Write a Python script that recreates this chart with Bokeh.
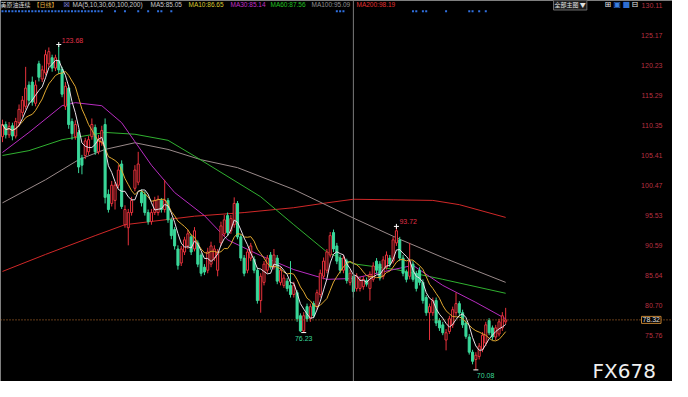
import numpy as np
import pandas as pd
from bokeh.plotting import figure
from bokeh.models import Range1d, Span, Label, ColumnDataSource
from bokeh.core.properties import value
from bokeh.embed import file_html
from bokeh.resources import INLINE

# ---------------- data ----------------
opens = [108.5, 110.5, 108.8, 110.3, 108.6, 110.8, 112.5, 113.5, 117.0, 117.5,
         114.0, 120.5, 118.0, 119.0, 120.5, 121.5, 119.8, 121.0, 119.6, 113.5,
         116.5, 111.0, 108.5, 109.2, 105.0, 105.4, 106.0, 108.5, 110.0, 106.0,
         107.5, 110.5, 99.0, 97.5, 98.0, 100.5, 104.0, 94.0, 93.5, 96.0,
         100.0, 101.0, 99.3, 99.0, 96.0, 94.5, 96.0, 96.0, 98.0, 96.5,
         98.0, 94.8, 93.2, 90.0, 87.7, 89.5, 90.5, 92.0, 90.0, 91.0,
         89.0, 87.0, 86.5, 87.5, 88.5, 86.5, 91.0, 92.5, 95.5, 93.0,
         94.0, 97.5, 92.0, 88.5, 86.5, 88.5, 88.3, 86.5, 81.5, 84.5,
         86.5, 89.0, 87.0, 88.5, 84.5, 84.0, 84.7, 84.0, 82.5, 82.8,
         79.0, 76.5, 80.5, 78.5, 81.0, 80.5, 82.5, 85.5, 86.5, 89.0,
         92.7, 90.5, 88.5, 86.5, 88.0, 84.5, 85.5, 83.5, 83.5, 83.8,
         84.8, 83.5, 85.0, 88.0, 87.5, 85.5, 87.0, 88.5, 88.0, 91.0,
         91.5, 88.5, 86.2, 85.5, 87.5, 86.0, 86.5, 84.5, 82.0, 79.5,
         79.5, 81.5, 78.2, 77.5, 75.0, 76.4, 77.5, 79.5, 81.0, 79.5,
         77.8, 75.5, 73.0, 71.8, 72.3, 73.5, 74.5, 78.2, 77.0, 75.5,
         76.0, 77.0, 78.0]
closes = [110.5, 108.8, 110.2, 108.6, 111.0, 113.0, 114.5, 116.5, 114.5, 114.2,
          117.0, 118.3, 119.5, 122.0, 122.5, 119.8, 121.5, 119.5, 115.5, 116.8,
          110.5, 109.0, 110.5, 103.5, 103.8, 107.8, 108.0, 110.5, 106.0, 108.0,
          109.5, 98.5, 96.5, 100.5, 100.5, 103.0, 97.0, 96.5, 96.0, 98.0,
          103.0, 104.0, 97.6, 96.0, 94.5, 96.0, 98.0, 98.2, 96.5, 98.0,
          94.8, 92.2, 90.5, 87.3, 90.0, 91.5, 92.5, 89.5, 93.0, 87.5,
          86.0, 86.2, 89.5, 90.5, 90.0, 89.5, 93.8, 94.8, 92.7, 95.0,
          97.5, 92.0, 88.5, 86.0, 89.5, 90.5, 86.5, 81.5, 85.5, 87.5,
          88.5, 87.0, 89.0, 84.7, 86.5, 85.2, 83.5, 82.5, 84.0, 78.5,
          76.5, 79.0, 78.5, 80.5, 79.0, 82.8, 86.0, 88.0, 89.5, 92.2,
          90.0, 88.0, 86.5, 88.5, 84.8, 86.0, 83.0, 85.5, 84.8, 85.0,
          84.2, 85.8, 87.2, 86.5, 85.2, 88.2, 89.0, 87.5, 91.5, 93.0,
          88.5, 86.0, 85.0, 88.0, 85.0, 83.5, 84.5, 81.5, 79.5, 80.5,
          81.5, 77.8, 77.0, 76.2, 76.2, 78.5, 80.0, 81.0, 79.5, 77.5,
          75.6, 73.0, 71.5, 72.5, 74.0, 75.8, 77.5, 76.2, 75.5, 77.0,
          78.0, 79.0, 78.32]
highs = [111.3, 111.0, 110.9, 110.8, 111.6, 113.8, 115.2, 120.0, 117.6, 118.4,
         117.8, 121.0, 120.2, 122.8, 123.2, 122.0, 122.0, 123.68, 120.0, 117.5,
         117.0, 111.5, 111.2, 109.6, 105.5, 108.3, 108.6, 111.5, 110.5, 108.8,
         110.3, 111.5, 99.8, 101.2, 101.0, 103.8, 104.6, 97.2, 96.6, 98.6,
         103.8, 106.0, 99.8, 99.5, 96.5, 96.6, 98.6, 98.8, 98.4, 101.4,
         98.4, 95.2, 93.6, 90.6, 90.5, 92.0, 93.2, 92.4, 93.6, 91.4,
         89.4, 87.5, 90.2, 91.2, 90.6, 90.0, 94.5, 95.6, 96.0, 95.6,
         98.5, 97.9, 92.4, 89.0, 90.0, 91.0, 88.8, 86.9, 86.0, 88.0,
         89.0, 89.5, 90.0, 89.0, 87.0, 85.8, 85.2, 88.0, 84.6, 83.2,
         79.4, 79.6, 81.0, 81.0, 81.4, 83.3, 86.6, 88.6, 90.0, 92.8,
         93.2, 91.0, 89.0, 89.0, 88.4, 86.6, 86.0, 86.0, 85.4, 85.5,
         85.3, 86.3, 87.8, 88.5, 88.0, 88.8, 89.6, 89.0, 92.0, 93.72,
         92.0, 89.0, 86.6, 91.0, 88.0, 86.4, 87.0, 85.0, 82.4, 81.0,
         82.0, 82.0, 78.6, 78.0, 76.8, 79.0, 80.5, 82.8, 81.4, 80.0,
         78.2, 76.0, 73.4, 73.0, 74.5, 76.3, 78.0, 78.6, 77.4, 77.5,
         78.5, 79.6, 80.3]
lows = [107.6, 108.2, 108.3, 107.9, 108.2, 110.2, 111.8, 113.0, 113.8, 113.6,
        113.5, 117.6, 117.5, 118.6, 120.0, 119.2, 119.3, 118.8, 115.0, 112.9,
        109.8, 108.0, 108.0, 102.5, 102.3, 104.8, 105.5, 108.0, 105.5, 105.6,
        107.0, 97.5, 96.0, 97.0, 96.5, 100.0, 96.6, 93.5, 90.6, 95.5,
        99.5, 100.5, 97.0, 95.5, 94.0, 94.0, 95.6, 95.5, 96.0, 96.0,
        94.3, 91.6, 89.9, 86.6, 87.2, 89.0, 90.0, 89.0, 89.6, 87.0,
        85.5, 85.7, 86.0, 87.0, 88.0, 85.5, 90.5, 92.0, 92.2, 92.5,
        93.5, 91.6, 88.0, 85.5, 86.0, 88.0, 86.0, 81.0, 79.5, 84.0,
        86.0, 86.6, 86.6, 84.2, 84.0, 83.6, 83.0, 82.0, 82.0, 78.0,
        76.3, 76.23, 78.0, 78.0, 78.6, 80.0, 82.0, 85.0, 86.0, 88.6,
        89.5, 87.5, 86.0, 86.0, 84.3, 84.0, 82.0, 83.0, 83.0, 83.3,
        83.8, 81.5, 84.6, 86.0, 84.8, 85.0, 86.6, 87.0, 87.6, 90.5,
        88.0, 85.5, 84.5, 85.0, 84.6, 83.0, 84.0, 81.0, 79.0, 75.0,
        79.0, 77.3, 76.5, 75.8, 73.3, 76.0, 77.0, 79.0, 79.0, 77.0,
        75.2, 72.6, 71.0, 70.08, 71.8, 73.0, 74.0, 75.8, 75.0, 75.0,
        75.6, 76.5, 77.6]

# slow moving averages (candle index, value)
ma30_idx = [0, 8, 18, 22, 30, 36, 45, 52, 61, 68, 78, 88, 98, 106, 118, 124, 133, 143, 152]
ma30_val = [105.9, 109.2, 113.6, 114.1, 113.6, 110.8, 103.8, 99.3, 95.5, 91.5,
            88.9, 86.6, 85.0, 85.14, 86.6, 87.3, 84.0, 81.2, 78.5]
ma60_idx = [0, 8, 18, 31, 40, 50, 58, 78, 88, 98, 106, 119, 133, 152]
ma60_val = [105.4, 106.2, 108.0, 109.2, 108.9, 107.9, 105.3, 98.6, 94.0, 89.5,
            87.56, 86.6, 85.0, 82.7]
ma100_idx = [0, 13, 23, 31, 40, 50, 60, 71, 88, 106, 120, 133, 152]
ma100_val = [97.6, 101.4, 104.7, 106.4, 107.5, 106.4, 104.7, 103.4, 99.8, 95.09,
             91.6, 88.6, 84.5]
ma200_idx = [0, 13, 28, 37, 58, 73, 88, 98, 106, 118, 130, 138, 152]
ma200_val = [86.3, 89.1, 92.2, 94.0, 95.4, 96.0, 96.8, 97.6, 98.19, 98.1, 98.0,
             97.3, 95.2]

ytick_vals = [130.11, 125.17, 120.23, 115.29, 110.35, 105.41, 100.47, 95.53,
              90.59, 85.64, 80.70, 75.76]
last_price = 78.32
cursor_idx = 106
event_idx = list(range(0, 31)) + [34, 37, 41, 44, 47, 48, 51, 101, 102, 103,
                                  124, 125, 127, 128, 134, 141, 142, 144, 146]
peak_idx = [17, 119]
trough_idx = [91, 143]

header_name = "美原油连续"
header_period = "【日线】"
header_items = [("MA(5,10,30,60,100,200)", "#c8c8c8"),
                ("MA5:85.05", "#c8c8c8"),
                ("MA10:86.65", "#d8c830"),
                ("MA30:85.14", "#c030c8"),
                ("MA60:87.56", "#20c020"),
                ("MA100:95.09", "#909090"),
                ("MA200:98.19", "#e03030")]

# ---------------- styling ----------------
UP = "#e8323c"
DOWN = "#3ad89a"
W, H = 672, 381
FONT = "Liberation Sans"

o = np.array(opens); c = np.array(closes); h = np.array(highs); l = np.array(lows)
idx = np.arange(len(c))
up = c >= o

ma5 = pd.Series(c).rolling(5, min_periods=1).mean()
ma10 = pd.Series(c).rolling(10, min_periods=1).mean()

p = figure(width=W, height=H, x_range=Range1d(-0.6, 202.4), y_range=Range1d(68.17, 130.93),
           output_backend="svg", toolbar_location=None,
           x_axis_location=None, y_axis_location=None,
           min_border_left=0, min_border_right=0, min_border_top=0, min_border_bottom=0,
           background_fill_color="#000000", border_fill_color="#000000",
           outline_line_color=None)
p.grid.grid_line_color = None

# price scale labels (right side, positioned through the y scale)
for v in ytick_vals:
    p.add_layout(Label(x=662, x_units="screen", y=v, y_units="data", text=f"{v:.2f}",
                       text_align="right", text_baseline="middle", text_color="#b83040",
                       text_font_size="7px", text_font=FONT))

# cursor and last price line
p.add_layout(Span(location=cursor_idx, dimension="height", line_color="#7a7a7a", line_width=1))
p.add_layout(Span(location=last_price, dimension="width", line_color="#c87830",
                  line_width=1, line_dash="1 2"))

# slow MAs
p.line(ma200_idx, ma200_val, line_color="#d02828", line_width=1)
p.line(ma100_idx, ma100_val, line_color="#9a8a8a", line_width=1)
p.line(ma60_idx, ma60_val, line_color="#30b030", line_width=1)
p.line(ma30_idx, ma30_val, line_color="#b82cc0", line_width=1)

# candles
src_up = ColumnDataSource(dict(x=idx[up], o=o[up], c=c[up], h=h[up], l=l[up]))
src_dn = ColumnDataSource(dict(x=idx[~up], o=o[~up], c=c[~up], h=h[~up], l=l[~up]))
p.segment("x", "l", "x", "h", source=src_up, line_color=UP, line_width=1)
p.segment("x", "l", "x", "h", source=src_dn, line_color=DOWN, line_width=1)
p.vbar(x="x", width=0.62, top="c", bottom="o", source=src_up,
       fill_color="#000000", line_color=UP, line_width=1)
p.vbar(x="x", width=0.62, top="o", bottom="c", source=src_dn,
       fill_color=DOWN, line_color=DOWN, line_width=1)

# fast MAs
p.line(idx, ma10, line_color="#e0a830", line_width=1)
p.line(idx, ma5, line_color="#e8e0e8", line_width=1)

# event markers on top row
p.extra_y_ranges = {"ev": Range1d(0, 1)}
p.scatter(event_idx, [0.972] * len(event_idx), y_range_name="ev", marker="square",
          size=2, fill_color="#3070e0", line_color=None)

# extremes
pk_y = [h[i] for i in peak_idx]
tr_y = [l[i] for i in trough_idx]
p.scatter(peak_idx, pk_y, marker="cross", size=5, line_color="#ffffff")
p.scatter(trough_idx, tr_y, marker="dash", size=5, line_color="#ffffff")
p.text(peak_idx, pk_y, text=[f"{v:.2f}" for v in pk_y], x_offset=3, y_offset=-2,
       text_baseline="bottom", text_align="left", text_color="#e03048",
       text_font_size="7px", text_font=value(FONT))
p.text(trough_idx[:1], tr_y[:1], text=[f"{tr_y[0]:.2f}"], y_offset=3,
       text_baseline="top", text_align="center", text_color=DOWN,
       text_font_size="7px", text_font=value(FONT))
p.text(trough_idx[1:], tr_y[1:], text=[f"{tr_y[1]:.2f}"], x_offset=1, y_offset=3,
       text_baseline="top", text_align="left", text_color=DOWN,
       text_font_size="7px", text_font=value(FONT))


def lab(text, fx, fy, color, size="7px", font=FONT, **kw):
    p.add_layout(Label(x=fx, y=H - fy, x_units="screen", y_units="screen", text=text,
                       text_color=color, text_font_size=size, text_font=font,
                       text_baseline="middle", **kw))


# header
lab(header_name, 0, 4, "#d8d8d8", size="6px", font="Noto Sans CJK SC")
lab(header_period, 33, 4, "#e0b040", size="6px", font="Noto Sans CJK SC")
lab("☒", 63, 4, "#9c9cff", size="7px", font="DejaVu Sans")
hx = [72, 150, 188, 230, 270, 311, 356]
for (t, col), x0 in zip(header_items, hx):
    lab(t, x0, 4, col, size="6.5px")

# top right controls
lab("全部主图 ▼", 553, 4, "#e0e0e0", size="6px", font="Noto Sans CJK SC",
    border_line_color="#6a6a6a", background_fill_color="#1c1c1c", padding=1)
lab("⊞", 604, 4, "#e8e8e8", size="8px", font="DejaVu Sans")
lab("▣", 613, 4, "#3b7fe0", size="8px", font="DejaVu Sans")
lab("■", 622, 4, "#2f6fd0", size="8px", font="DejaVu Sans")
lab("⊟", 631, 4, "#e8e8e8", size="8px", font="DejaVu Sans")

# last price box on the price scale
p.add_layout(Label(x=641, x_units="screen", y=last_price, y_units="data",
                   text=f"{last_price:.2f}", text_color="#e0e0e0", text_font_size="7px",
                   text_font=FONT, text_baseline="middle",
                   border_line_color="#c08030", background_fill_color="#000000",
                   padding=1))

# watermark
lab("FX678", 592, 370, "#f0f0f0", size="20px", font="DejaVu Sans")

open("out.html", "w").write(file_html(p, INLINE))
